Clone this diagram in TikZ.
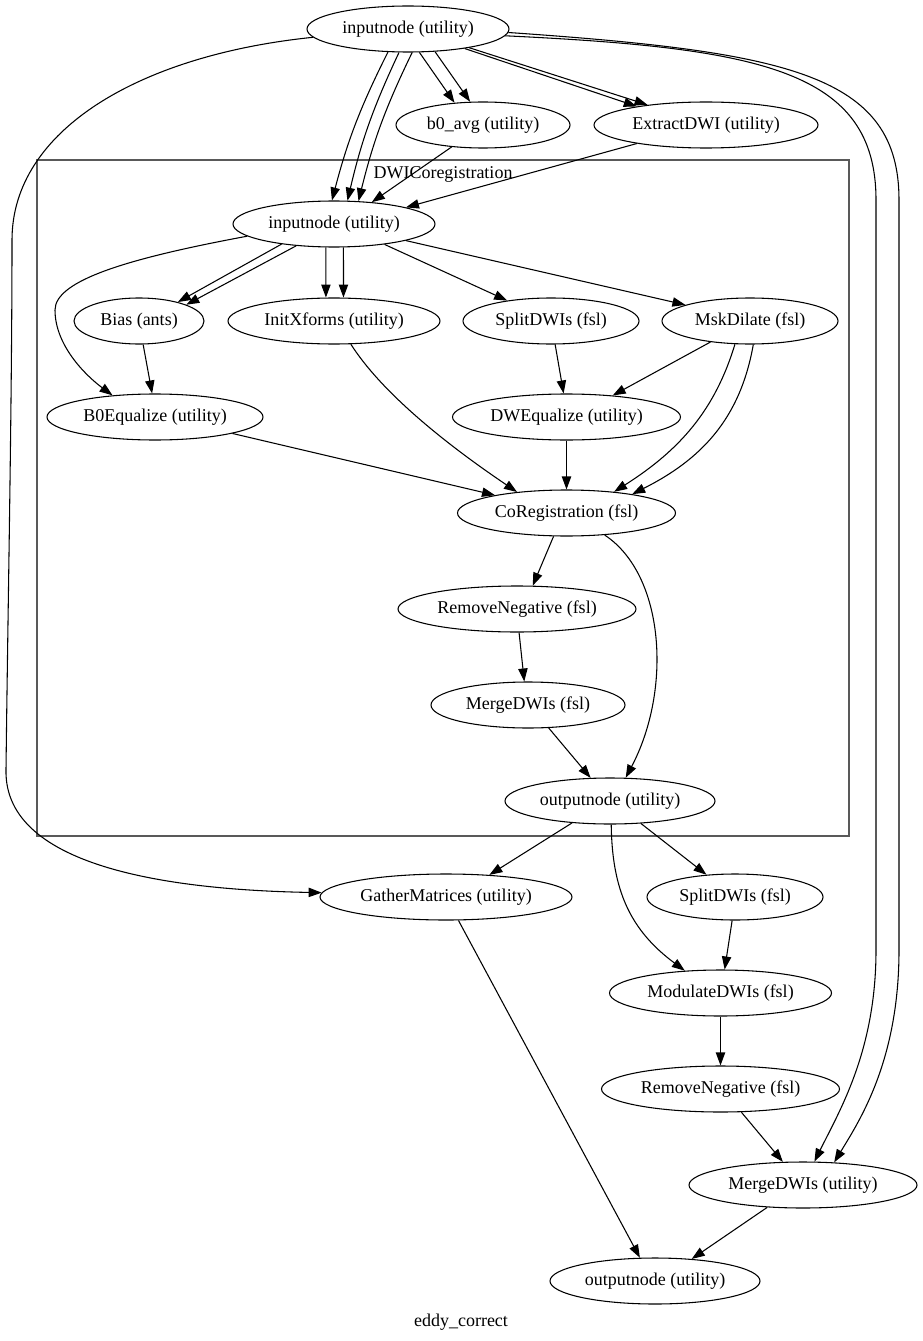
\documentclass[tikz,border=0pt]{standalone}
\usepackage{fontspec}
\setmainfont{Liberation Serif}
\usetikzlibrary{shapes.geometric,arrows.meta}
\begin{document}
\begin{tikzpicture}[x=0.75pt,y=-0.75pt,
  every node/.append style={font=\fontsize{13.5}{16}\selectfont},
  nd/.style={ellipse,draw,line width=0.8pt,inner sep=0pt,minimum height=34.5pt},
  e/.style={line width=0.8pt,-{Triangle[length=9.75pt,width=7pt]}},
  clus/.style={draw=black!65,line width=1.2pt,inner sep=0pt}]
\useasboundingbox (0,0) rectangle (923,1341);
% cluster
\node[clus,minimum width=609pt,minimum height=507pt] (clu) at (443,498) {};
\node (clab) at (443,174) {DWICoregistration};
% nodes
\node[nd,minimum width=151.5pt] (in0) at (408,29) {inputnode (utility)};
\node[nd,minimum width=130.5pt] (b0) at (483,125) {b0\_avg (utility)};
\node[nd,minimum width=168pt] (ext) at (706,125) {ExtractDWI (utility)};
\node[nd,minimum width=151.5pt] (in1) at (334,224) {inputnode (utility)};
\node[nd,minimum width=97.5pt] (bias) at (139,321) {Bias (ants)};
\node[nd,minimum width=159pt] (initx) at (334,321) {InitXforms (utility)};
\node[nd,minimum width=132pt] (split1) at (551,321) {SplitDWIs (fsl)};
\node[nd,minimum width=132pt] (msk) at (750,321) {MskDilate (fsl)};
\node[nd,minimum width=162pt] (b0eq) at (155,417) {B0Equalize (utility)};
\node[nd,minimum width=171pt] (dweq) at (566.5,417) {DWEqualize (utility)};
\node[nd,minimum width=163.5pt] (coreg) at (566.5,513) {CoRegistration (fsl)};
\node[nd,minimum width=178.5pt] (rmneg1) at (517,609) {RemoveNegative (fsl)};
\node[nd,minimum width=145.5pt] (merge1) at (528,705) {MergeDWIs (fsl)};
\node[nd,minimum width=157.5pt] (out1) at (610,801) {outputnode (utility)};
\node[nd,minimum width=189pt] (gather) at (446,897) {GatherMatrices (utility)};
\node[nd,minimum width=132pt] (split2) at (735,897) {SplitDWIs (fsl)};
\node[nd,minimum width=166.5pt] (mod) at (720.5,993) {ModulateDWIs (fsl)};
\node[nd,minimum width=178.5pt] (rmneg2) at (720.5,1089) {RemoveNegative (fsl)};
\node[nd,minimum width=171pt] (merge2) at (803,1185) {MergeDWIs (utility)};
\node[nd,minimum width=157.5pt] (out2) at (655,1281) {outputnode (utility)};
\node (title) at (461,1322) {eddy\_correct};
% edges
\draw[e] (in0.-131.6) to[bend right=6] (in1.95);
\draw[e] (in0.-111.5) to[bend right=6] (in1.60.5);
\draw[e] (in0.-80.1) to[bend right=6] (in1.43);
\draw[e] (in0.-64.3) -- (b0.142.1);
\draw[e] (in0.-40.5) -- (b0.119.8);
\draw[e] (in0.-19.8) -- (ext.165.3);
\draw[e] (in0.-17.1) -- (ext.161.7);
\draw[e] (in0.185) .. controls (140,55) and (12,130) .. (12,240) .. controls (12,400) and (8,600) .. (6,770) .. controls (4,870) and (180,890) .. (gather.178);
\draw[e] (in0.-4) .. controls (760,48) and (876,70) .. (876,200) -- (876,950) .. controls (876,1050) and (840,1110) .. (merge2.64.3);
\draw[e] (in0.-2) .. controls (790,52) and (899,75) .. (899,200) -- (899,950) .. controls (899,1060) and (860,1120) .. (merge2.36.5);
\draw[e] (b0.-145.3) -- (in1.30.8);
\draw[e] (ext.-165.3) -- (in1.13.7);
\draw[e] (in1.-159.3) -- (bias.26.1);
\draw[e] (in1.-150) -- (bias.19.5);
\draw[e] (in1.-109.3) -- (initx.109.2);
\draw[e] (in1.-68.6) -- (initx.68.5);
\draw[e] (in1.-22.3) -- (split1.155.7);
\draw[e] (in1.-13) -- (msk.166.6);
\draw[e] (in1.-172.3) .. controls (130,258) and (55,280) .. (55,310) .. controls (55,345) and (85,375) .. (b0eq.153.9);
\draw[e] (bias.-80.1) -- (b0eq.97.4);
\draw[e] (initx.-54.8) .. controls (380,390) and (440,440) .. (coreg.157.3);
\draw[e] (b0eq.-12.4) -- (coreg.166.5);
\draw[e] (split1.-80.1) -- (dweq.97.4);
\draw[e] (msk.-152.9) -- (dweq.25.7);
\draw[e] (msk.-123.5) .. controls (715,410) and (680,450) .. (coreg.24.4);
\draw[e] (msk.-82.6) .. controls (740,420) and (700,460) .. (coreg.16.2);
\draw[e] (dweq.south) -- (coreg.north);
\draw[e] (coreg.-119.6) -- (rmneg1.56.7);
\draw[e] (coreg.-30.3) .. controls (665,575) and (672,690) .. (out1.56.6);
\draw[e] (rmneg1.-85) -- (merge1.99.9);
\draw[e] (merge1.-48.4) -- (out1.130);
\draw[e] (out1.-150.6) -- (gather.27.9);
\draw[e] (out1.-36.3) -- (split2.142.1);
\draw[e] (out1.-87.5) .. controls (612,890) and (630,930) .. (mod.148.1);
\draw[e] (split2.-97.4) -- (mod.80);
\draw[e] (gather.-62.4) -- (out2.123.4);
\draw[e] (mod.south) -- (rmneg2.north);
\draw[e] (rmneg2.-48.6) -- (merge2.131.5);
\draw[e] (merge2.-148) -- (out2.31.8);
\end{tikzpicture}
\end{document}
